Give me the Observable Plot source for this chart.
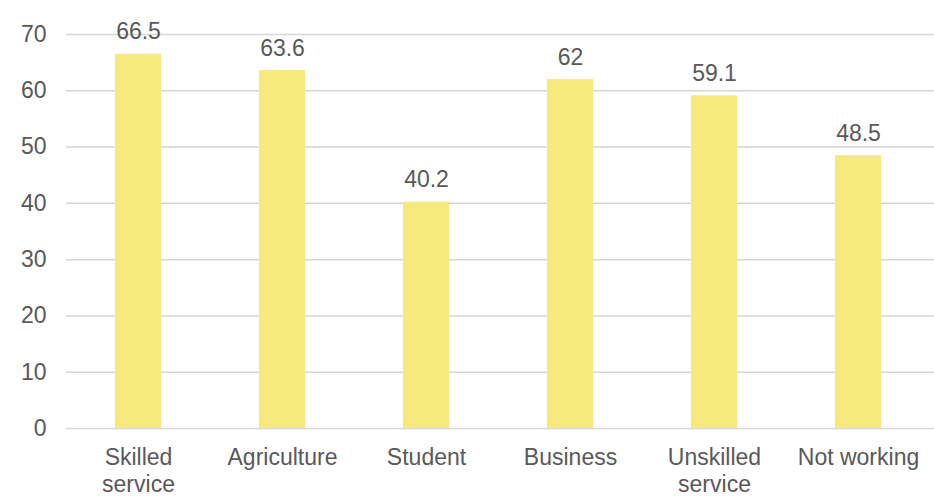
<!DOCTYPE html>
<html>
<head>
<meta charset="utf-8">
<script src="https://cdn.jsdelivr.net/npm/d3@7"></script>
<script src="https://cdn.jsdelivr.net/npm/@observablehq/plot@0.6"></script>
<style>
  html, body { margin: 0; padding: 0; background: #fff; }
  #chart svg { display: block; }
</style>
</head>
<body>
<div id="chart"></div>
<script>
const categories = ["Skilled\nservice", "Agriculture", "Student", "Business", "Unskilled\nservice", "Not working"];
const values = [66.5, 63.6, 40.2, 62, 59.1, 48.5];
const valueLabels = ["66.5", "63.6", "40.2", "62", "59.1", "48.5"];
const yTicks = [0, 10, 20, 30, 40, 50, 60, 70];

const data = categories.map((c, i) => ({category: c, value: values[i], label: valueLabels[i]}));

const textColor = "#595959";
const font = "'Liberation Sans', Arial, sans-serif";

const chart = Plot.plot({
  width: 934,
  height: 497,
  marginLeft: 66,
  marginRight: 0,
  marginTop: 34,
  marginBottom: 69,
  style: {fontFamily: font, fontSize: "23px", color: textColor, background: "#fff"},
  x: {domain: categories, range: [66, 930], paddingInner: 0.68, paddingOuter: 0.34},
  y: {domain: [0, 70]},
  marks: [
    Plot.gridY(yTicks, {stroke: "#d6d6d6", strokeOpacity: 1, strokeWidth: 1.5}),
    Plot.barY(data, {x: "category", y: "value", fill: "#f7ea7d"}),
    Plot.text(data, {x: "category", y: "value", text: "label", dy: -15, lineAnchor: "bottom", fill: textColor, fontSize: 23}),
    Plot.axisY(yTicks, {tickSize: 0, tickPadding: 20, label: null, fill: textColor, fontSize: 23, tickFormat: d => String(d)}),
    Plot.axisX({tickSize: 0, tickPadding: 17, label: null, fill: textColor, fontSize: 23, lineHeight: 1.17})
  ]
});
document.getElementById("chart").appendChild(chart);
</script>
</body>
</html>
